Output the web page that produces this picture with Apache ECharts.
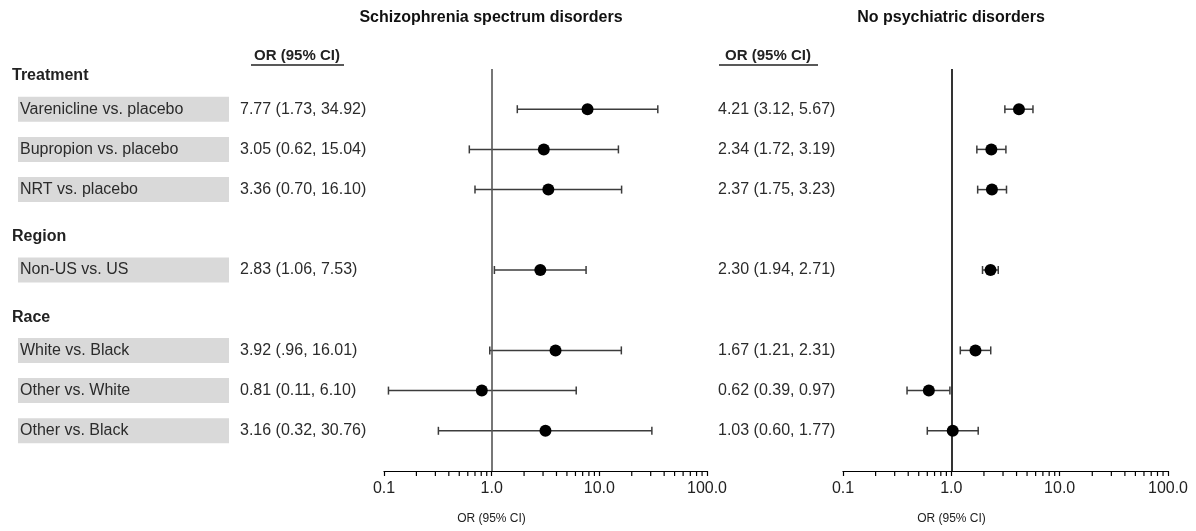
<!DOCTYPE html>
<html>
<head>
<meta charset="utf-8">
<script src="https://cdn.jsdelivr.net/npm/echarts@6/dist/echarts.min.js"></script>
<style>
  html, body { margin: 0; padding: 0; background: #fff; }
  #chart { width: 1196px; height: 531px; }
</style>
</head>
<body>
<div id="chart"></div>
<script>
// rows top to bottom (headers have no estimate)
const rows = [
  'Treatment', 'Varenicline vs. placebo', 'Bupropion vs. placebo', 'NRT vs. placebo',
  'Region', 'Non-US vs. US',
  'Race', 'White vs. Black', 'Other vs. White', 'Other vs. Black',
];
const isHeader = [true, false, false, false, true, false, true, false, false, false];

// Schizophrenia spectrum disorders
const szOR = [null, 7.77, 3.05, 3.36, null, 2.83, null, 3.92, 0.81, 3.16];
const szLo = [null, 1.73, 0.62, 0.70, null, 1.06, null, 0.96, 0.11, 0.32];
const szHi = [null, 34.92, 15.04, 16.10, null, 7.53, null, 16.01, 6.10, 30.76];
const szText = ['', '7.77 (1.73, 34.92)', '3.05 (0.62, 15.04)', '3.36 (0.70, 16.10)', '',
  '2.83 (1.06, 7.53)', '', '3.92 (.96, 16.01)', '0.81 (0.11, 6.10)', '3.16 (0.32, 30.76)'];

// No psychiatric disorders
const npOR = [null, 4.21, 2.34, 2.37, null, 2.30, null, 1.67, 0.62, 1.03];
const npLo = [null, 3.12, 1.72, 1.75, null, 1.94, null, 1.21, 0.39, 0.60];
const npHi = [null, 5.67, 3.19, 3.23, null, 2.71, null, 2.31, 0.97, 1.77];
const npText = ['', '4.21 (3.12, 5.67)', '2.34 (1.72, 3.19)', '2.37 (1.75, 3.23)', '',
  '2.30 (1.94, 2.71)', '', '1.67 (1.21, 2.31)', '0.62 (0.39, 0.97)', '1.03 (0.60, 1.77)'];

const xTicks = [0.1, 1, 10, 100];
const xTickLabels = ['0.1', '1.0', '10.0', '100.0'];
const minorTicks = [0.2, 0.3, 0.4, 0.5, 0.6, 0.7, 0.8, 0.9, 2, 3, 4, 5, 6, 7, 8, 9,
  20, 30, 40, 50, 60, 70, 80, 90];

const FONT = '"Liberation Sans", Arial, sans-serif';
const nRows = rows.length; // axis line sits at value nRows

const chart = echarts.init(document.getElementById('chart'));

const pointData = (or) => or.map((v, i) => (v == null ? null : [v, i])).filter(d => d);
const barData = (lo, hi) => lo.map((v, i) => (v == null ? null : [i, v, hi[i]])).filter(d => d);

const tickLabel = v => {
  const idx = xTicks.findIndex(t => Math.abs(Math.log10(t) - Math.log10(v)) < 1e-6);
  return idx < 0 ? '' : xTickLabels[idx];
};

function xAxisFor(gridIndex) {
  return {
    type: 'log', logBase: 10, min: 0.1, max: 100, gridIndex, position: 'bottom',
    name: 'OR (95% CI)', nameLocation: 'middle', nameGap: 42,
    nameTextStyle: { fontFamily: FONT, fontSize: 12, color: '#222', padding: [0, 108, 0, 0] },
    axisLine: { show: true, onZero: false, lineStyle: { color: '#000', width: 1.2 } },
    axisTick: { show: true, length: 5, lineStyle: { color: '#000', width: 1.2 } },
    minorTick: { show: false },
    splitLine: { show: false },
    axisLabel: { fontFamily: FONT, fontSize: 16, color: '#222', margin: 10, formatter: tickLabel },
  };
}

function yAxisFor(gridIndex, margin, formatter, rich) {
  return {
    type: 'value', gridIndex, position: 'left', offset: 0,
    min: 0, max: nRows, interval: 1, inverse: true,
    axisLine: { show: false }, axisTick: { show: false }, splitLine: { show: false },
    axisLabel: {
      show: true, margin, align: 'left', fontFamily: FONT, fontSize: 16, color: '#2b2b2b',
      formatter, rich,
    },
  };
}

const labelRich = {
  h: { fontFamily: FONT, fontSize: 16, fontWeight: 'bold', color: '#222', padding: [14, 0, 0, 0] },
  s: { width: 6 },
  b: {
    fontFamily: FONT, fontSize: 16, color: '#2b2b2b', backgroundColor: '#d9d9d9',
    width: 209, height: 25, lineHeight: 25, padding: [0, 0, 0, 2],
  },
};

function errorBarSeries(xi, yi, lo, hi, color) {
  return {
    type: 'custom', xAxisIndex: xi, yAxisIndex: yi, silent: true, z: 3,
    encode: { x: [1, 2], y: 0 },
    data: barData(lo, hi),
    renderItem(params, api) {
      const row = api.value(0);
      const a = api.coord([api.value(1), row]);
      const b = api.coord([api.value(2), row]);
      const h = 4;
      const style = { stroke: color, lineWidth: 1.5 };
      return {
        type: 'group',
        children: [
          { type: 'line', shape: { x1: a[0], y1: a[1], x2: b[0], y2: b[1] }, style },
          { type: 'line', shape: { x1: a[0], y1: a[1] - h, x2: a[0], y2: a[1] + h }, style },
          { type: 'line', shape: { x1: b[0], y1: b[1] - h, x2: b[0], y2: b[1] + h }, style },
        ],
      };
    },
  };
}

function pointSeries(xi, yi, or, refColor) {
  return {
    type: 'scatter', xAxisIndex: xi, yAxisIndex: yi, silent: true, z: 5,
    symbol: 'circle', symbolSize: 12, itemStyle: { color: '#000', opacity: 1 },
    data: pointData(or),
    markLine: {
      silent: true, symbol: 'none', label: { show: false },
      lineStyle: { color: refColor, width: 1.6, type: 'solid' },
      data: [{ xAxis: 1 }],
    },
  };
}

function minorTickSeries(xi, yi) {
  return {
    type: 'scatter', xAxisIndex: xi, yAxisIndex: yi, silent: true, clip: false, z: 2,
    symbol: 'rect', symbolSize: [1.2, 5], symbolOffset: [0, 2.5],
    itemStyle: { color: '#000', opacity: 1 },
    data: minorTicks.map(v => [v, nRows]),
  };
}

const headerText = (x, text) => ({
  type: 'text', x, y: 56,
  style: { text, fontFamily: FONT, fontSize: 15, fontWeight: 'bold', fill: '#222',
    textAlign: 'center', textVerticalAlign: 'middle' },
});
const headerLine = (x1, x2) => ({
  type: 'line', shape: { x1, y1: 65, x2, y2: 65 }, style: { stroke: '#222', lineWidth: 1.3 },
});

const option = {
  animation: false,
  backgroundColor: '#fff',
  grid: [
    { left: 384, width: 323, top: 69, height: 402 },
    { left: 843, width: 325, top: 69, height: 402 },
  ],
  xAxis: [xAxisFor(0), xAxisFor(1)],
  yAxis: [
    yAxisFor(0, 372, v => {
      const i = Math.round(v);
      if (i >= rows.length) return '';
      return isHeader[i] ? `{h|${rows[i]}}` : `{s| }{b|${rows[i]}}`;
    }, labelRich),
    yAxisFor(0, 144, v => szText[Math.round(v)] || ''),
    yAxisFor(1, 125, v => npText[Math.round(v)] || ''),
  ],
  series: [
    errorBarSeries(0, 0, szLo, szHi, '#3c3c3c'),
    pointSeries(0, 0, szOR, '#555'),
    minorTickSeries(0, 0),
    errorBarSeries(1, 2, npLo, npHi, '#3c3c3c'),
    pointSeries(1, 2, npOR, '#000'),
    minorTickSeries(1, 2),
  ],
  graphic: [
    { type: 'text', x: 491, y: 18,
      style: { text: 'Schizophrenia spectrum disorders', fontFamily: FONT, fontSize: 16,
        fontWeight: 'bold', fill: '#111', textAlign: 'center', textVerticalAlign: 'middle' } },
    { type: 'text', x: 951, y: 18,
      style: { text: 'No psychiatric disorders', fontFamily: FONT, fontSize: 16,
        fontWeight: 'bold', fill: '#111', textAlign: 'center', textVerticalAlign: 'middle' } },
    headerText(297, 'OR (95% CI)'),
    headerLine(251, 344),
    headerText(768, 'OR (95% CI)'),
    headerLine(719, 818),
  ],
};

chart.setOption(option);
</script>
</body>
</html>
